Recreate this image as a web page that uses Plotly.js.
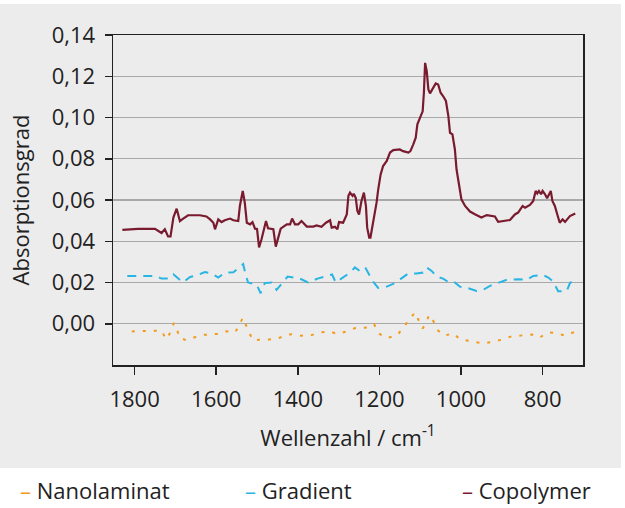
<!DOCTYPE html>
<html>
<head>
<meta charset="utf-8">
<script src="https://cdn.plot.ly/plotly-3.0.1.min.js"></script>
<style>html,body{margin:0;padding:0;background:#fff;}#chart{width:625px;height:508px;}</style>
</head>
<body>
<div id="chart"></div>
<script>
// Wavenumbers (cm^-1) and absorbance values
const copoWave = [1830,1792,1750,1742,1734,1726,1718,1712,1705,1697,1695,1689,1681,1669,1640,1624,1615,1607,1603,1599,1595,1587,1579,1566,1558,1546,1542,1535,1530,1525,1517,1511,1505,1500,1495,1489,1478,1473,1460,1454,1442,1427,1419,1414,1407,1399,1391,1378,1362,1354,1342,1331,1321,1317,1309,1303,1299,1289,1280,1276,1272,1266,1263,1258,1254,1250,1244,1238,1233,1230,1225,1222,1217,1211,1207,1203,1197,1191,1182,1174,1166,1150,1142,1129,1124,1117,1111,1107,1101,1094,1091,1088,1084,1080,1076,1070,1062,1056,1050,1044,1037,1031,1027,1021,1015,1011,1005,999,990,978,966,950,937,917,909,897,880,868,860,849,843,831,823,817,813,809,804,800,794,789,780,776,770,764,758,751,745,733,720];
const copoVal = [0.0455,0.046,0.046,0.045,0.044,0.0458,0.0423,0.0423,0.0515,0.0558,0.054,0.0498,0.051,0.0526,0.0526,0.052,0.0506,0.049,0.0458,0.0485,0.0506,0.0493,0.0502,0.051,0.0502,0.0498,0.0571,0.0644,0.0587,0.049,0.0482,0.0493,0.0461,0.046,0.037,0.041,0.0498,0.0463,0.0458,0.0374,0.0461,0.0482,0.0482,0.051,0.0482,0.0482,0.0498,0.0471,0.0471,0.0477,0.047,0.049,0.0502,0.0466,0.047,0.0458,0.0493,0.049,0.053,0.062,0.0636,0.062,0.063,0.061,0.0547,0.053,0.0595,0.0636,0.057,0.0466,0.0418,0.0418,0.047,0.0547,0.0587,0.065,0.0724,0.0765,0.0789,0.083,0.0842,0.0845,0.0837,0.083,0.0837,0.087,0.0902,0.0967,0.1,0.103,0.112,0.1265,0.1225,0.1136,0.1117,0.1136,0.1165,0.116,0.112,0.1104,0.108,0.1007,0.0926,0.0918,0.0845,0.0749,0.0668,0.0603,0.0571,0.0544,0.0531,0.0515,0.0527,0.052,0.0494,0.0498,0.0503,0.053,0.0539,0.0571,0.0563,0.0576,0.0595,0.0644,0.0632,0.0644,0.0628,0.0644,0.0628,0.0608,0.0644,0.0595,0.0571,0.053,0.049,0.0506,0.0494,0.0522,0.0535];

const gradWave = [1818,1750,1734,1718,1705,1682,1664,1644,1628,1611,1595,1579,1558,1534,1528,1522,1501,1491,1481,1464,1452,1437,1425,1395,1375,1350,1329,1316,1307,1289,1272,1260,1248,1235,1215,1203,1182,1162,1142,1129,1109,1093,1084,1072,1060,1044,1027,1015,1003,982,962,946,929,909,888,860,839,823,799,786,774,762,741,733,718];
const gradVal = [0.0232,0.0232,0.0219,0.0219,0.024,0.02,0.0227,0.0237,0.0251,0.0244,0.0224,0.0248,0.025,0.0289,0.024,0.02,0.019,0.0148,0.0197,0.02,0.0164,0.02,0.0229,0.0219,0.02,0.022,0.0232,0.0239,0.02,0.0224,0.0248,0.0273,0.0256,0.0273,0.0203,0.0174,0.018,0.0197,0.0224,0.0244,0.0244,0.0248,0.0273,0.0256,0.0229,0.0219,0.0197,0.02,0.018,0.0172,0.0159,0.0164,0.0184,0.0197,0.0213,0.0216,0.0213,0.0232,0.0237,0.0224,0.0205,0.0158,0.0158,0.0197,0.0219];

const nanoWave = [1807,1779,1754,1734,1723,1712,1704,1697,1691,1674,1654,1636,1615,1595,1575,1554,1544,1535,1529,1520,1509,1489,1468,1448,1425,1409,1391,1366,1346,1321,1303,1280,1256,1240,1227,1213,1203,1182,1156,1142,1128,1113,1105,1094,1086,1078,1068,1058,1041,1019,1003,985,960,944,925,897,876,850,825,809,786,764,745,721];
const nanoVal = [-0.0037,-0.0034,-0.0034,-0.0034,-0.0075,-0.0042,0.0003,-0.0018,-0.0066,-0.008,-0.0066,-0.0054,-0.0052,-0.0049,-0.0036,-0.0042,-0.001,0.0029,0.0003,-0.0042,-0.0081,-0.0076,-0.0076,-0.0071,-0.0052,-0.0051,-0.0058,-0.0055,-0.0042,-0.0037,-0.005,-0.0037,-0.0018,-0.002,-0.0018,-0.0002,-0.0045,-0.007,-0.0055,-0.0021,0.0014,0.0055,0.0022,-0.0023,0.0003,0.0043,0.0014,-0.003,-0.0058,-0.0046,-0.0075,-0.0081,-0.0088,-0.0096,-0.0088,-0.0076,-0.0061,-0.0058,-0.0052,-0.0068,-0.0042,-0.0046,-0.0058,-0.0039];

const seriesNames = ["Nanolaminat","Gradient","Copolymer"];
const seriesColors = ["#f39a1b","#29b5e3","#7a1a2e"];

const xTickVals = [1800,1600,1400,1200,1000,800];
const xTickText = ["1800","1600","1400","1200","1000","800"];
const yTickVals = [0,0.02,0.04,0.06,0.08,0.10,0.12,0.14];
const yTickText = ["0,00","0,02","0,04","0,06","0,08","0,10","0,12","0,14"];

const FONT = '"Open Sans", "Noto Sans", sans-serif';
const TXT = '#222222';

const traces = [
  {x: nanoWave, y: nanoVal, name: seriesNames[0], mode: 'lines', line: {color: seriesColors[0], width: 2, dash: '3px,8px'}},
  {x: gradWave, y: gradVal, name: seriesNames[1], mode: 'lines', line: {color: seriesColors[1], width: 2, dash: '9px,7px'}},
  {x: copoWave, y: copoVal, name: seriesNames[2], mode: 'lines', line: {color: seriesColors[2], width: 2.2}}
];

const xr = [1853, 701];
const yr = [-0.02, 0.14];

const legendX = [-0.202, 0.277, 0.739];
const annotations = seriesNames.map((n, i) => ({
  xref: 'paper', yref: 'paper', x: legendX[i], y: -0.378, xanchor: 'left', yanchor: 'middle',
  showarrow: false, text: '<span style="color:' + seriesColors[i] + '">–</span> ' + n,
  font: {family: FONT, size: 22, color: TXT}
}));

const layout = {
  width: 625, height: 508,
  margin: {l: 113, r: 42, t: 35, b: 143, pad: 0},
  paper_bgcolor: '#ffffff',
  plot_bgcolor: '#ececec',
  showlegend: false,
  font: {family: FONT, size: 22, color: TXT},
  shapes: [{type: 'rect', xref: 'paper', yref: 'paper', x0: -0.2404, x1: 1.0809, y0: -0.3121, y1: 1.0939,
            fillcolor: '#ececec', line: {width: 0}, layer: 'below'}],
  xaxis: {
    range: xr, tickvals: xTickVals, ticktext: xTickText,
    ticks: 'outside', ticklen: 8, tickwidth: 1.5, tickcolor: '#222',
    showline: true, linecolor: '#222', linewidth: 1.5, mirror: true,
    showgrid: false, zeroline: false, ticklabelstandoff: 6,
    tickfont: {family: FONT, size: 22, color: TXT},
    title: {text: 'Wellenzahl / cm<sup>-1</sup>', font: {family: FONT, size: 22, color: TXT}, standoff: 18}
  },
  xaxis2: {
    overlaying: 'x', anchor: 'y', range: xr, tickvals: xTickVals,
    ticks: 'inside', ticklen: 8, tickwidth: 1.5, tickcolor: '#222',
    showticklabels: false, showline: false, showgrid: false, zeroline: false
  },
  yaxis: {
    range: yr, tickvals: yTickVals, ticktext: yTickText,
    ticks: 'outside', ticklen: 7, tickwidth: 1.5, tickcolor: '#222',
    showline: true, linecolor: '#222', linewidth: 1.5, mirror: true,
    showgrid: true, gridcolor: '#a9a9a9', gridwidth: 1.3, zeroline: false,
    ticklabelstandoff: 5,
    tickfont: {family: FONT, size: 22, color: TXT},
    title: {text: 'Absorptionsgrad', font: {family: FONT, size: 22, color: TXT}, standoff: 16}
  },
  yaxis2: {
    overlaying: 'y', anchor: 'x', range: yr, tickvals: yTickVals,
    ticks: 'inside', ticklen: 7, tickwidth: 1.5, tickcolor: '#222',
    showticklabels: false, showline: false, showgrid: false, zeroline: false
  },
  annotations: annotations
};

Plotly.newPlot('chart', traces, layout, {staticPlot: true, displayModeBar: false});
</script>
</body>
</html>
